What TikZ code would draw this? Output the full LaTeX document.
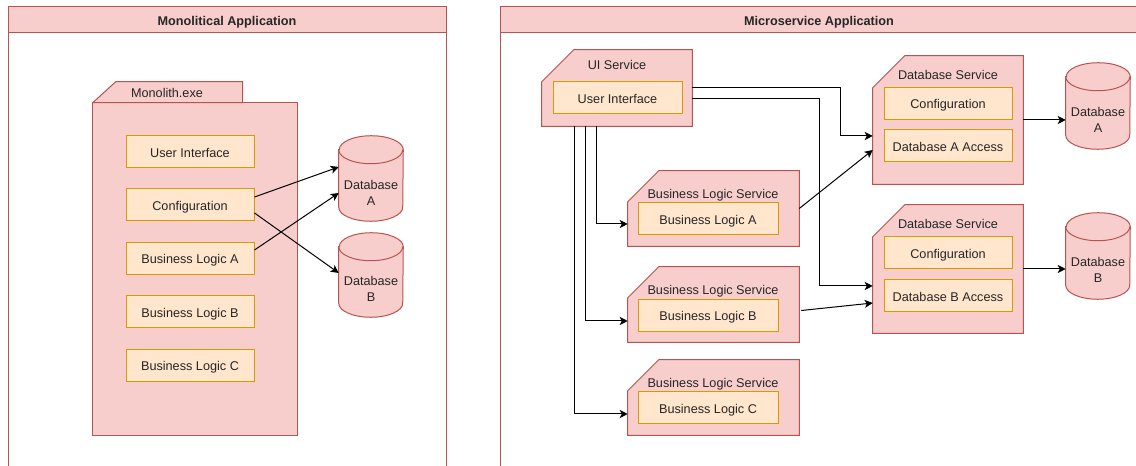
\documentclass[tikz,border=0pt]{standalone}
\usepackage{fontspec}
\setmainfont{Liberation Sans}
\usetikzlibrary{arrows.meta,calc}

\definecolor{pinkfill}{HTML}{F8CECC}
\definecolor{pinkline}{HTML}{B85450}
\definecolor{boxfill}{HTML}{FFE6CC}
\definecolor{boxline}{HTML}{D79B00}
\definecolor{inktext}{HTML}{262626}

% service card: rectangle with the top-left corner cut off (#2 = cut in px)
\newcommand\cardshape[2]{%
  \path[shell] (#1.south west) -- ([yshift=-#2*0.75pt]#1.north west)
    -- ([xshift=#2*0.75pt]#1.north west) -- (#1.north east)
    -- (#1.south east) -- cycle;}

% database drum drawn over an empty node of the same size
\newcommand\drumshape[1]{%
  \path[shell] ([yshift=-10.5pt]#1.north west) -- ([yshift=10.5pt]#1.south west)
    arc[start angle=180, end angle=360, x radius=24pt, y radius=10.5pt]
    -- ([yshift=-10.5pt]#1.north east)
    arc[start angle=0, end angle=180, x radius=24pt, y radius=10.5pt] -- cycle;
  \draw[lane] ([yshift=-10.5pt]#1.north west)
    arc[start angle=180, end angle=360, x radius=24pt, y radius=10.5pt];}

\begin{document}
\begin{tikzpicture}[x=0.75pt, y=-0.75pt,
  every node/.style={font=\fontsize{9.5pt}{12pt}\selectfont, text=inktext, inner sep=0pt},
  oneline/.style={text height=9.2pt, text depth=1pt},
  caption/.style={oneline},
  part/.style={oneline, rectangle, draw=boxline, fill=boxfill, line width=0.75pt, minimum height=32*0.75pt},
  ghost/.style={rectangle, draw=none, fill=none},
  shell/.style={draw=pinkline, fill=pinkfill, line width=0.75pt},
  lane/.style={draw=pinkline, line width=0.75pt},
  headbar/.style={oneline, rectangle, draw=pinkline, fill=pinkfill, line width=0.75pt,
    minimum height=26*0.75pt, font=\fontsize{9.5pt}{12pt}\selectfont\bfseries},
  link/.style={draw=black, line width=0.75pt, -{Stealth[length=6pt,width=6pt,inset=1.5pt]}},
]
\useasboundingbox (0,0) rectangle (1136,466);
\clip (0,0) rectangle (1136,466);

% ---------------- lanes ----------------
\path[lane, fill=white] (8,7) rectangle (446,490);
\node[headbar, minimum width=438*0.75pt] (monohead) at (227,20) {Monolitical Application};
\path[lane, fill=white] (500,7) rectangle (1138,490);
\node[headbar, minimum width=638*0.75pt] (microhead) at (819,20) {Microservice Application};

% ---------------- monolith ----------------
\node[ghost, minimum width=204*0.75pt, minimum height=332*0.75pt] (mono) at (195,269) {};
\path[shell] (mono.north west) rectangle (mono.south east);
\path[shell] (mono.north west) -- ++(23,-21) -- ++(127,0) -- ++(0,21) -- cycle;
\node[caption] (monolbl) at (167,92) {Monolith.exe};

\node[part, minimum width=128*0.75pt] (mui)  at (190,152)   {User Interface};
\node[part, minimum width=128*0.75pt] (mcfg) at (190,205)   {Configuration};
\node[part, minimum width=128*0.75pt] (mbla) at (190,258.5) {Business Logic A};
\node[part, minimum width=128*0.75pt] (mblb) at (190,312)   {Business Logic B};
\node[part, minimum width=128*0.75pt] (mblc) at (190,365.5) {Business Logic C};

\node[ghost, minimum width=64*0.75pt, minimum height=85*0.75pt] (mdba) at (371,178.5) {};
\drumshape{mdba}
\node[align=center] (mdbatext) at ($(mdba)+(0,14)$) {Database\\A};
\node[ghost, minimum width=64*0.75pt, minimum height=84*0.75pt] (mdbb) at (371,275) {};
\drumshape{mdbb}
\node[align=center] (mdbbtext) at ($(mdbb)+(0,14)$) {Database\\B};

% ---------------- microservices ----------------
\node[ghost, minimum width=150*0.75pt, minimum height=76*0.75pt] (uisvc) at (617,88) {};
\cardshape{uisvc}{32}
\node[caption] (uilbl) at (617,64.5) {UI Service};
\node[part, minimum width=129*0.75pt] (uiface) at (617.5,98) {User Interface};

\node[ghost, minimum width=171*0.75pt, minimum height=75*0.75pt] (blsa) at (713.5,208.5) {};
\cardshape{blsa}{31}
\node[caption] (blsalbl) at (713,193) {Business Logic Service};
\node[part, minimum width=140*0.75pt] (blsainner) at (708,219) {Business Logic A};

\node[ghost, minimum width=171*0.75pt, minimum height=75*0.75pt] (blsb) at (713.5,304.5) {};
\cardshape{blsb}{31}
\node[caption] (blsblbl) at (713,289) {Business Logic Service};
\node[part, minimum width=140*0.75pt] (blsbinner) at (708,315.5) {Business Logic B};

\node[ghost, minimum width=171*0.75pt, minimum height=75*0.75pt] (blsc) at (713.5,397.5) {};
\cardshape{blsc}{31}
\node[caption] (blsclbl) at (713,382) {Business Logic Service};
\node[part, minimum width=140*0.75pt] (blscinner) at (708,408) {Business Logic C};

\node[ghost, minimum width=150*0.75pt, minimum height=128*0.75pt] (dbsa) at (948,120) {};
\cardshape{dbsa}{32}
\node[caption] (dbsalbl) at (948,74.5) {Database Service};
\node[part, minimum width=128*0.75pt] (dbsacfg) at (948,103.5) {Configuration};
\node[part, minimum width=128*0.75pt] (dbsaacc) at (948,146) {Database A Access};

\node[ghost, minimum width=150*0.75pt, minimum height=128*0.75pt] (dbsb) at (948,269) {};
\cardshape{dbsb}{32}
\node[caption] (dbsblbl) at (948,223.5) {Database Service};
\node[part, minimum width=128*0.75pt] (dbsbcfg) at (948,253) {Configuration};
\node[part, minimum width=128*0.75pt] (dbsbacc) at (948,296) {Database B Access};

\node[ghost, minimum width=64*0.75pt, minimum height=86*0.75pt] (cyla) at (1098,106) {};
\drumshape{cyla}
\node[align=center] (cylatext) at ($(cyla)+(0,14)$) {Database\\A};
\node[ghost, minimum width=64*0.75pt, minimum height=86*0.75pt] (cylb) at (1098,256) {};
\drumshape{cylb}
\node[align=center] (cylbtext) at ($(cylb)+(0,14)$) {Database\\B};

% ---------------- connectors ----------------
\draw[link] ($(mcfg.east)+(0,-8)$) -- ($(mdba.west)+(0,-11.5)$);
\draw[link] ($(mcfg.east)+(0,8)$) -- ($(mdbb.west)+(0,-2)$);
\draw[link] ($(mbla.east)+(0,-8.5)$) -- ($(mdba.west)+(0,14.5)$);

\draw[link] ($(uisvc.south)+(-21,0)$) |- ($(blsa.west)+(0,15.5)$);
\draw[link] ($(uisvc.south)+(-32,0)$) |- ($(blsb.west)+(0,16.5)$);
\draw[link] ($(uisvc.south)+(-43,0)$) |- ($(blsc.west)+(0,16.5)$);
\draw[link] (uisvc.east) -| ($(dbsa.west)+(-32,16)$) -- ($(dbsa.west)+(0,16)$);
\draw[link] ($(uisvc.east)+(0,11)$) -| ($(dbsb.west)+(-53,17)$) -- ($(dbsb.west)+(0,17)$);
\draw[link] (blsa.east) -- ($(dbsa.west)+(0,30)$);
\draw[link] ($(blsb.east)+(2,6)$) -- ($(dbsb.west)+(0,34)$);
\draw[link] (dbsa.east) -- (dbsa.east -| cyla.west);
\draw[link] (dbsb.east) -- (dbsb.east -| cylb.west);
\end{tikzpicture}
\end{document}
